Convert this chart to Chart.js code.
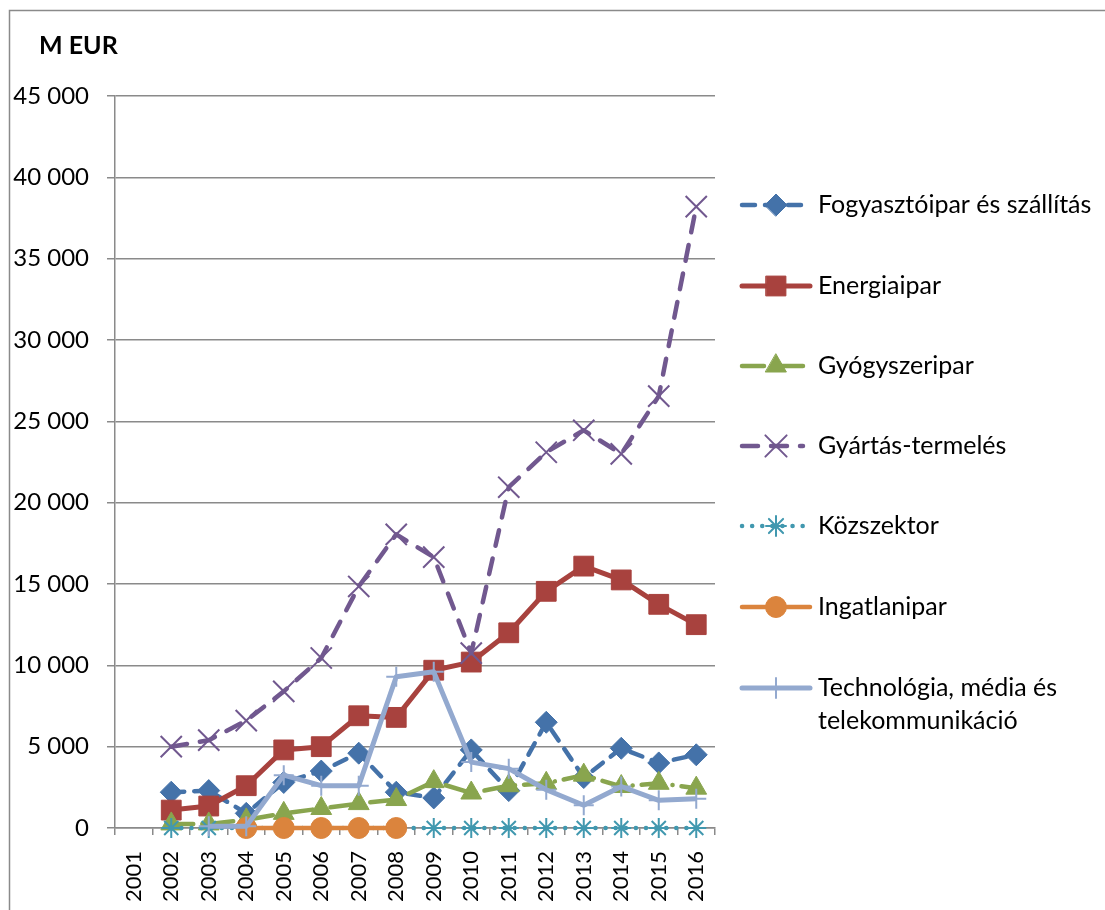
<!DOCTYPE html>
<html>
<head>
<meta charset="utf-8">
<script src="https://cdn.jsdelivr.net/npm/chart.js@4/dist/chart.umd.min.js"></script>
<style>
html,body{margin:0;padding:0;background:#fff;}
#wrap{position:relative;width:1105px;height:910px;}
</style>
</head>
<body>
<div id="wrap"><canvas id="c" width="1105" height="910"></canvas></div>
<script>
const years = ['2001','2002','2003','2004','2005','2006','2007','2008','2009','2010','2011','2012','2013','2014','2015','2016'];
const fogyasztoipar = [null,2200,2300,900,2800,3500,4600,2200,1850,4800,2300,6500,3100,4900,4000,4500];
const energiaipar   = [null,1100,1350,2600,4800,5000,6900,6800,9700,10200,12000,14550,16100,15250,13750,12500];
const gyogyszeripar = [null,250,250,500,900,1200,1500,1750,2850,2150,2600,2750,3250,2550,2750,2450];
const gyartas       = [null,5000,5400,6600,8400,10450,14850,18050,16650,10750,20950,23100,24450,23000,26550,38200];
const kozszektor    = [null,0,0,0,0,0,0,0,0,0,0,0,0,0,0,0];
const ingatlanipar  = [null,null,null,0,0,0,0,0,null,null,null,null,null,null,null,null];
const technologia   = [null,null,100,100,3250,2600,2600,9300,9600,4050,3650,2350,1400,2550,1700,1800];
const seriesNames = ['Fogyasztóipar és szállítás','Energiaipar','Gyógyszeripar','Gyártás-termelés','Közszektor','Ingatlanipar','Technológia, média és telekommunikáció'];
const yTicksMax = 45000, yStep = 5000;

const FONT = 'Lato, "Open Sans", sans-serif';
const grid = '#8a8a8a';

function ds(i, data, color, o) {
  return Object.assign({
    label: seriesNames[i], data: data,
    borderColor: color, backgroundColor: color,
    pointBackgroundColor: color, pointBorderColor: color,
    borderWidth: 4.5, tension: 0, fill: false,
    borderCapStyle: 'round', borderJoinStyle: 'round',
    pointBorderWidth: 1, order: 10 - i, spanGaps: false, clip: false
  }, o);
}

const datasets = [
  ds(0, fogyasztoipar, '#4472a9', {borderDash:[13,10], pointStyle:'rectRot', pointRadius:11}),
  ds(1, energiaipar, '#a8423e', {borderWidth:5, borderCapStyle:'butt', pointStyle:'rect', pointRadius:14}),
  ds(2, gyogyszeripar, '#89a54e', {borderDash:[22,9,0.1,9], pointStyle:'triangle', pointRadius:12}),
  ds(3, gyartas, '#71588f', {borderDash:[16,13], pointStyle:'crossRot', pointRadius:15, pointBorderWidth:2}),
  ds(4, kozszektor, '#4198af', {borderWidth:4.5, borderDash:[0.1,10], pointStyle:'star', pointRadius:10, pointBorderWidth:2}),
  ds(5, ingatlanipar, '#db843d', {borderCapStyle:'butt', pointStyle:'circle', pointRadius:10.5}),
  ds(6, technologia, '#93a9cf', {borderWidth:5, borderCapStyle:'butt', pointStyle:'cross', pointRadius:10, pointBorderWidth:2})
];

const legendY = [205, 286, 366, 446, 526, 607, 688];

const frame = {
  id: 'frame',
  afterDraw(chart) {
    const ctx = chart.ctx;
    ctx.save();
    ctx.strokeStyle = '#8a8a8a';
    ctx.lineWidth = 1.5;
    ctx.strokeRect(9.5, 10.5, 1300, 1300);
    ctx.fillStyle = '#000';
    ctx.font = 'bold 25px ' + FONT;
    ctx.textBaseline = 'middle';
    ctx.textAlign = 'left';
    ctx.fillText('M EUR', 39, 46);
    chart.data.datasets.forEach((d, i) => {
      const y = legendY[i];
      ctx.save();
      ctx.strokeStyle = d.borderColor;
      ctx.lineWidth = d.borderWidth;
      ctx.lineCap = d.borderCapStyle === 'butt' ? 'round' : d.borderCapStyle;
      ctx.setLineDash(d.borderDash || []);
      ctx.beginPath();
      ctx.moveTo(742, y);
      ctx.lineTo(i === 1 || i === 5 || i === 6 ? 810 : 803, y);
      ctx.stroke();
      ctx.setLineDash([]);
      ctx.fillStyle = d.pointBackgroundColor;
      ctx.strokeStyle = d.pointBorderColor;
      ctx.lineWidth = d.pointBorderWidth;
      Chart.helpers.drawPoint(ctx, {pointStyle: d.pointStyle, radius: d.pointRadius, borderWidth: d.pointBorderWidth, rotation: 0}, 776, y);
      ctx.restore();
      ctx.fillStyle = '#000';
      ctx.font = '25px ' + FONT;
      ctx.textBaseline = 'middle';
      if (i === 6) {
        ctx.fillText('Technológia, média és', 818, y);
        ctx.fillText('telekommunikáció', 818, y + 33);
      } else {
        ctx.fillText(d.label, 818, y);
      }
    });
    ctx.restore();
  }
};

new Chart(document.getElementById('c'), {
  type: 'line',
  data: { labels: years, datasets: datasets },
  options: {
    responsive: false, animation: false, devicePixelRatio: 1,
    layout: { padding: { left: 0, right: 390, top: 96, bottom: 0 } },
    plugins: { legend: { display: false }, tooltip: { enabled: false }, title: { display: false } },
    scales: {
      x: {
        type: 'category', offset: true,
        afterFit(s) { s.height = 82; },
        grid: { display: true, drawOnChartArea: false, drawTicks: true, tickLength: 7, color: grid, lineWidth: 1.5, offset: true },
        border: { display: true, color: grid, width: 1.5 },
        ticks: { minRotation: 90, maxRotation: 90, autoSkip: false, padding: 16, color: '#000', font: { family: FONT, size: 22 } }
      },
      y: {
        min: 0, max: yTicksMax,
        afterFit(s) { s.width = 115; },
        grid: { color: grid, lineWidth: 1.5, tickLength: 8 },
        border: { display: true, color: grid, width: 1.5 },
        ticks: { stepSize: yStep, padding: 18, color: '#000', font: { family: FONT, size: 24 },
          callback: v => String(v).replace(/\B(?=(\d{3})+(?!\d))/g, ' ') }
      }
    }
  },
  plugins: [frame]
});
</script>
</body>
</html>
